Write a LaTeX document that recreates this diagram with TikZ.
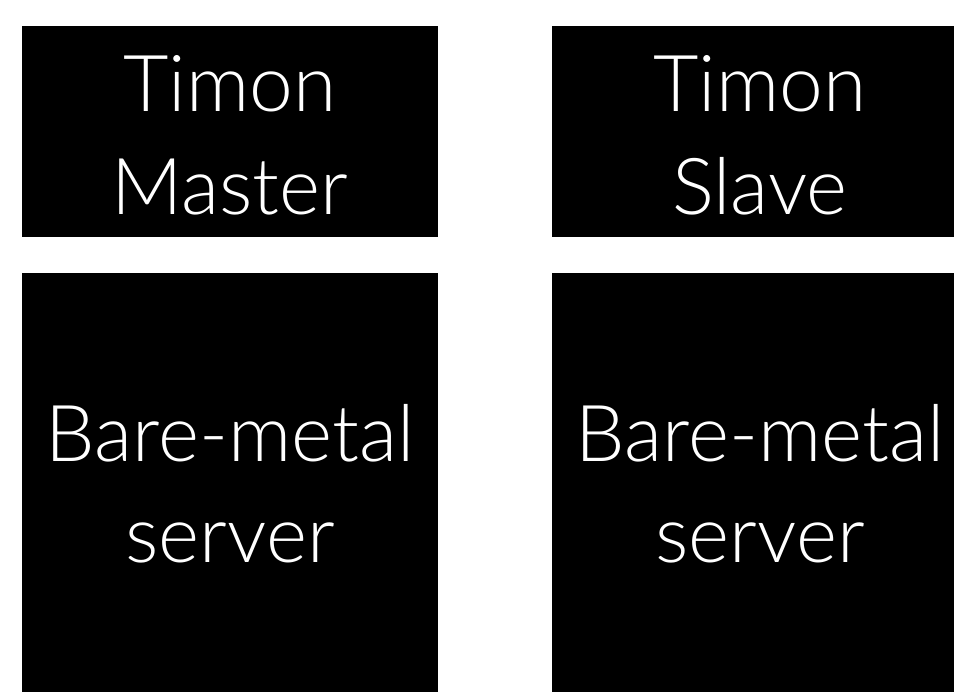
\documentclass[tikz,border=0pt]{standalone}
\usepackage{fontspec}
\setmainfont{Lato}[UprightFont=* Light]
\begin{document}
\begin{tikzpicture}[x=1pt,y=-1pt,
  lbl/.style={text=white,anchor=base,inner sep=0pt,font=\fontsize{78.5}{92}\selectfont},
  blk/.style={fill=black,draw=none}]
\useasboundingbox (0,0) rectangle (954,692);
\fill[white] (0,0) rectangle (954,692);
\fill[blk] (22,26) rectangle (438,237);
\fill[blk] (552,26) rectangle (954,237);
\fill[blk] (22,273) rectangle (438,692);
\fill[blk] (552,273) rectangle (954,692);
\node[lbl] (tm1) at (230,112) {Timon};
\node[lbl] (tm2) at (230,215) {Master};
\node[lbl] (ts1) at (760,112) {Timon};
\node[lbl] (ts2) at (760,215) {Slave};
\node[lbl] (ba1) at (230,462) {Bare-metal};
\node[lbl] (ba2) at (230,563) {server};
\node[lbl] (bb1) at (760,462) {Bare-metal};
\node[lbl] (bb2) at (760,563) {server};
\end{tikzpicture}
\end{document}
